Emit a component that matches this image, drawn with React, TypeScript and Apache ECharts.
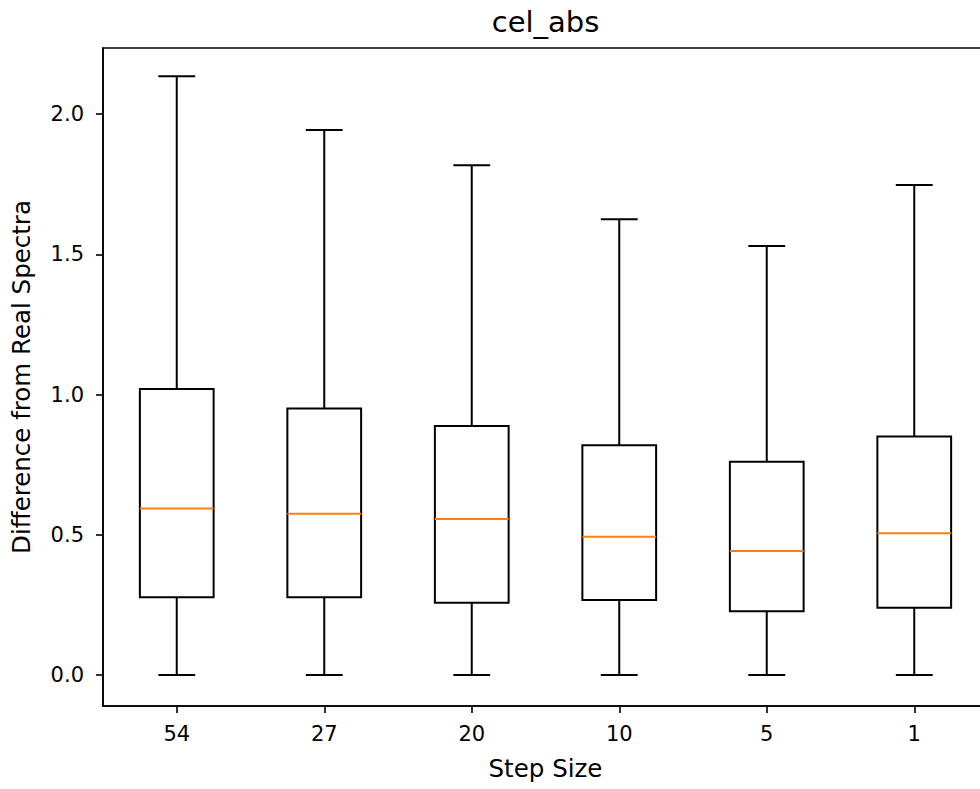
import React, { useEffect, useRef } from "react";
import * as echarts from "echarts";

// Step sizes along the x axis
const categories = ["54", "27", "20", "10", "5", "1"];
// Five-number summaries per step size
const lowerWhisker = [0, 0, 0, 0, 0, 0];
const q1 = [0.277, 0.277, 0.258, 0.267, 0.227, 0.24];
const median = [0.594, 0.575, 0.556, 0.493, 0.442, 0.505];
const q3 = [1.02, 0.95, 0.888, 0.819, 0.76, 0.85];
const upperWhisker = [2.135, 1.943, 1.817, 1.625, 1.529, 1.747];
const yTicks = [0, 0.5, 1.0, 1.5, 2.0];

const FONT = "DejaVu Sans";

export default function App() {
  const ref = useRef<HTMLDivElement>(null);

  useEffect(() => {
    if (!ref.current) return;
    const chart = echarts.init(ref.current, null, { renderer: "svg" });

    const data = categories.map((_, i) => [
      i,
      lowerWhisker[i],
      q1[i],
      median[i],
      q3[i],
      upperWhisker[i],
    ]);

    const gridLeft = 103;
    const gridTop = 48;
    const gridWidth = 885;
    const gridHeight = 658;

    chart.setOption({
      animation: false,
      backgroundColor: "#ffffff",
      textStyle: { fontFamily: FONT },
      grid: {
        left: gridLeft,
        top: gridTop,
        width: gridWidth,
        height: gridHeight,
        outerBoundsMode: "none",
        containLabel: false,
        show: true,
        borderColor: "#000000",
        borderWidth: 1.6,
        backgroundColor: "transparent",
      },
      xAxis: {
        type: "category",
        data: categories,
        boundaryGap: true,
        axisLine: {
          show: true,
          onZero: false,
          lineStyle: { color: "#000000", width: 1.6 },
        },
        axisTick: {
          show: true,
          alignWithLabel: true,
          length: 7,
          lineStyle: { color: "#000000", width: 1.6 },
        },
        axisLabel: {
          color: "#000000",
          fontFamily: FONT,
          fontSize: 21,
          margin: 17,
        },
        splitLine: { show: false },
      },
      yAxis: {
        type: "value",
        min: -0.1105,
        max: 2.2353,
        axisLine: { show: true, lineStyle: { color: "#000000", width: 1.6 } },
        axisTick: {
          show: true,
          length: 7,
          customValues: yTicks,
          lineStyle: { color: "#000000", width: 1.6 },
        },
        axisLabel: {
          color: "#000000",
          fontFamily: FONT,
          fontSize: 21,
          margin: 19,
          customValues: yTicks,
          formatter: (v: number) => v.toFixed(1),
        },
        splitLine: { show: false },
      },
      series: [
        {
          type: "custom",
          data,
          encode: { x: 0, y: [1, 2, 3, 4, 5] },
          renderItem: (params: any, api: any) => {
            const idx = api.value(0);
            const band = api.size([1, 0])[0];
            const boxHalf = band * 0.25;
            const capHalf = band * 0.125;
            const pLow = api.coord([idx, api.value(1)]);
            const pQ1 = api.coord([idx, api.value(2)]);
            const pMed = api.coord([idx, api.value(3)]);
            const pQ3 = api.coord([idx, api.value(4)]);
            const pHigh = api.coord([idx, api.value(5)]);
            const cx = pMed[0];
            const black = { stroke: "#000000", lineWidth: 2, fill: "none" };
            return {
              type: "group",
              children: [
                // lower whisker and cap
                {
                  type: "line",
                  shape: { x1: cx, y1: pQ1[1], x2: cx, y2: pLow[1] },
                  style: black,
                },
                {
                  type: "line",
                  shape: { x1: cx - capHalf, y1: pLow[1], x2: cx + capHalf, y2: pLow[1] },
                  style: black,
                },
                // upper whisker and cap
                {
                  type: "line",
                  shape: { x1: cx, y1: pQ3[1], x2: cx, y2: pHigh[1] },
                  style: black,
                },
                {
                  type: "line",
                  shape: { x1: cx - capHalf, y1: pHigh[1], x2: cx + capHalf, y2: pHigh[1] },
                  style: black,
                },
                // box
                {
                  type: "rect",
                  shape: {
                    x: cx - boxHalf,
                    y: pQ3[1],
                    width: boxHalf * 2,
                    height: pQ1[1] - pQ3[1],
                  },
                  style: black,
                },
                // median
                {
                  type: "line",
                  shape: { x1: cx - boxHalf, y1: pMed[1], x2: cx + boxHalf, y2: pMed[1] },
                  style: { stroke: "#ff7f0e", lineWidth: 2 },
                },
              ],
            };
          },
        },
      ],
      graphic: [
        {
          type: "text",
          x: gridLeft + gridWidth / 2,
          y: 22,
          style: {
            text: "cel_abs",
            fontFamily: FONT,
            fontSize: 29,
            fill: "#000000",
            align: "center",
            verticalAlign: "middle",
          },
        },
        {
          type: "text",
          x: gridLeft + gridWidth / 2,
          y: 768,
          style: {
            text: "Step Size",
            fontFamily: FONT,
            fontSize: 24.5,
            fill: "#000000",
            align: "center",
            verticalAlign: "middle",
          },
        },
        {
          type: "text",
          x: 21,
          y: gridTop + gridHeight / 2,
          rotation: Math.PI / 2,
          style: {
            text: "Difference from Real Spectra",
            fontFamily: FONT,
            fontSize: 24.5,
            fill: "#000000",
            align: "center",
            verticalAlign: "middle",
          },
        },
      ],
    });

    return () => chart.dispose();
  }, []);

  return (
    <div
      ref={ref}
      style={{ position: "fixed", left: 0, top: 0, width: 980, height: 789 }}
    />
  );
}
